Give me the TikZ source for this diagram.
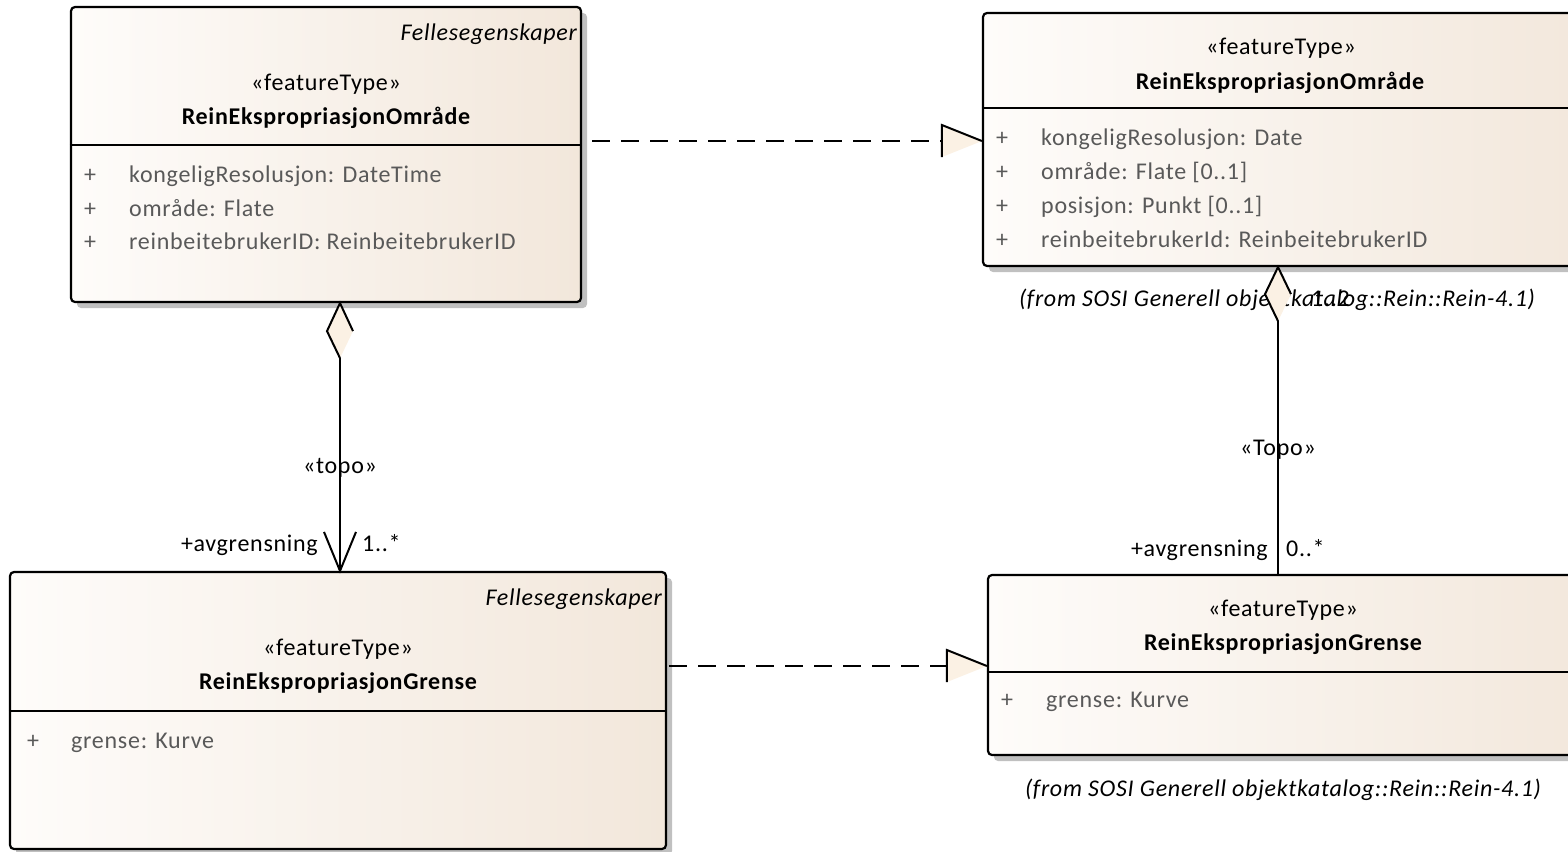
\documentclass[tikz,border=0pt]{standalone}
\usepackage{fontspec}
\setmainfont{Carlito}[LetterSpace=3]
\usetikzlibrary{shadows,calc}
\definecolor{boxL}{RGB}{254,252,250}
\definecolor{boxR}{RGB}{242,231,219}
\definecolor{cream}{RGB}{251,241,228}
\definecolor{attrc}{RGB}{89,89,89}
\definecolor{shadowc}{RGB}{192,192,192}
\newcommand\fsz{\fontsize{24}{28}\selectfont}
\begin{document}
\begin{tikzpicture}[x=1pt,y=-1pt,
  umlbox/.style={draw=black, line width=2.2pt, rounded corners=4pt, inner sep=0pt,
    left color=boxL, right color=boxR,
    drop shadow={shadow xshift=6pt, shadow yshift=-6pt, fill=shadowc, opacity=1}},
  divider/.style={draw=black, line width=2.2pt},
  txt/.style={inner sep=0pt, font=\fsz, text=black},
  ital/.style={inner sep=0pt, font=\fsz\itshape, text=black},
  nm/.style={inner sep=0pt, font=\fsz\bfseries, text=black},
  attr/.style={inner sep=0pt, font=\fsz, text=attrc},
  conn/.style={draw=black, line width=2pt},
  dashline/.style={draw=black, line width=2pt, dash pattern=on 18pt off 11pt},
]
\clip (0,0) rectangle (1568,851);
\fill[white] (0,0) rectangle (1568,851);

% ---------- Box A ----------
\node[umlbox, minimum width=510pt, minimum height=295pt] (A) at (326,154.5) {};
\draw[divider] (A.west |- 0,145) -- (A.east |- 0,145);
\node[ital, anchor=mid east] (Afel) at (577,38) {Fellesegenskaper};
\node[txt, anchor=mid] (Ast) at (326,88) {«featureType»};
\node[nm, anchor=mid] (Anm) at (326,122) {ReinEkspropriasjonOmråde};
\node[attr, anchor=mid west] (Ap1) at (84,180) {+};
\node[attr, anchor=mid west] (Aa1) at (129,180) {kongeligResolusjon: DateTime};
\node[attr, anchor=mid west] (Ap2) at (84,214) {+};
\node[attr, anchor=mid west] (Aa2) at (129,214) {område: Flate};
\node[attr, anchor=mid west] (Ap3) at (84,247) {+};
\node[attr, anchor=mid west] (Aa3) at (129,247) {reinbeitebrukerID: ReinbeitebrukerID};

% ---------- Box B ----------
\node[umlbox, minimum width=620pt, minimum height=253pt] (B) at (1293,139.5) {};
\draw[divider] (B.west |- 0,108) -- (B.east |- 0,108);
\node[txt, anchor=mid] (Bst) at (1281,52) {«featureType»};
\node[nm, anchor=mid] (Bnm) at (1280,87) {ReinEkspropriasjonOmråde};
\node[attr, anchor=mid west] (Bp1) at (996,143) {+};
\node[attr, anchor=mid west] (Ba1) at (1041,143) {kongeligResolusjon: Date};
\node[attr, anchor=mid west] (Bp2) at (996,177) {+};
\node[attr, anchor=mid west] (Ba2) at (1041,177) {område: Flate [0..1]};
\node[attr, anchor=mid west] (Bp3) at (996,211) {+};
\node[attr, anchor=mid west] (Ba3) at (1041,211) {posisjon: Punkt [0..1]};
\node[attr, anchor=mid west] (Bp4) at (996,245) {+};
\node[attr, anchor=mid west] (Ba4) at (1041,245) {reinbeitebrukerId: ReinbeitebrukerID};
\node[ital, anchor=mid] (Bfrom) at (1277,304) {(from SOSI Generell objektkatalog::Rein::Rein-4.1)};

% ---------- Box C ----------
\node[umlbox, minimum width=656pt, minimum height=277pt] (C) at (338,710.5) {};
\draw[divider] (C.west |- 0,711) -- (C.east |- 0,711);
\node[ital, anchor=mid east] (Cfel) at (662,603) {Fellesegenskaper};
\node[txt, anchor=mid] (Cst) at (338,653) {«featureType»};
\node[nm, anchor=mid] (Cnm) at (338,687) {ReinEkspropriasjonGrense};
\node[attr, anchor=mid west] (Cp1) at (27,746) {+};
\node[attr, anchor=mid west] (Ca1) at (71,746) {grense: Kurve};

% ---------- Box D ----------
\node[umlbox, minimum width=615pt, minimum height=180pt] (D) at (1295.5,665) {};
\draw[divider] (D.west |- 0,672) -- (D.east |- 0,672);
\node[txt, anchor=mid] (Dst) at (1283,614) {«featureType»};
\node[nm, anchor=mid] (Dnm) at (1283,648) {ReinEkspropriasjonGrense};
\node[attr, anchor=mid west] (Dp1) at (1001,705) {+};
\node[attr, anchor=mid west] (Da1) at (1046,705) {grense: Kurve};
\node[ital, anchor=mid] (Dfrom) at (1283,794) {(from SOSI Generell objektkatalog::Rein::Rein-4.1)};

% ---------- Realization A -> B ----------
\coordinate (r1s) at ($(A.east |- 0,141)+(10,0)$);
\coordinate (r1t) at (B.west |- 0,141);
\draw[dashline] (r1s) -- ($(r1t)+(-40,0)$);
\fill[cream] (r1t) -- ($(r1t)+(-40,-16)$) -- ($(r1t)+(-40,16)$) -- cycle;
\draw[conn] ($(r1t)+(-40,16)$) -- ($(r1t)+(-40,-16)$) -- (r1t);

% ---------- Realization C -> D ----------
\coordinate (r2s) at ($(C.east |- 0,666)+(2,0)$);
\coordinate (r2t) at (D.west |- 0,666);
\draw[dashline] (r2s) -- ($(r2t)+(-40,0)$);
\fill[cream] (r2t) -- ($(r2t)+(-40,-16)$) -- ($(r2t)+(-40,16)$) -- cycle;
\draw[conn] ($(r2t)+(-40,16)$) -- ($(r2t)+(-40,-16)$) -- (r2t);

% ---------- Aggregation A -> C ----------
\coordinate (d1t) at (A.south -| 340,0);
\coordinate (d1b) at ($(d1t)+(0,55)$);
\coordinate (c1t) at (C.north -| 340,0);
\fill[cream] (d1t) -- ($(d1t)+(13,28)$) -- (d1b) -- ($(d1t)+(-13,28)$) -- cycle;
\draw[conn] ($(d1t)+(13,28)$) -- (d1t) -- ($(d1t)+(-13,28)$) -- (d1b);
\draw[conn] (d1b) -- (c1t);
\draw[conn] ($(c1t)+(-16,-39)$) -- (c1t) -- ($(c1t)+(16,-39)$);
\node[txt, anchor=mid] (l1) at (340,471) {«topo»};
\node[txt, anchor=mid east] (l1r) at (318,549) {+avgrensning};
\node[txt, anchor=mid west] (l1m) at (362,549) {1..*};

% ---------- Aggregation B -> D ----------
\coordinate (d2t) at (B.south -| 1278,0);
\coordinate (d2b) at ($(d2t)+(0,54)$);
\coordinate (c2t) at (D.north -| 1278,0);
\fill[cream] (d2t) -- ($(d2t)+(13,27)$) -- (d2b) -- ($(d2t)+(-13,27)$) -- cycle;
\draw[conn] ($(d2t)+(13,27)$) -- (d2t) -- ($(d2t)+(-13,27)$) -- (d2b);
\draw[conn] (d2b) -- (c2t);
\node[txt, anchor=mid west] (l2s) at (1311,304) {1..2};
\node[txt, anchor=mid] (l2) at (1278,453) {«Topo»};
\node[txt, anchor=mid east] (l2r) at (1268,554) {+avgrensning};
\node[txt, anchor=mid west] (l2m) at (1286,554) {0..*};
\end{tikzpicture}
\end{document}
